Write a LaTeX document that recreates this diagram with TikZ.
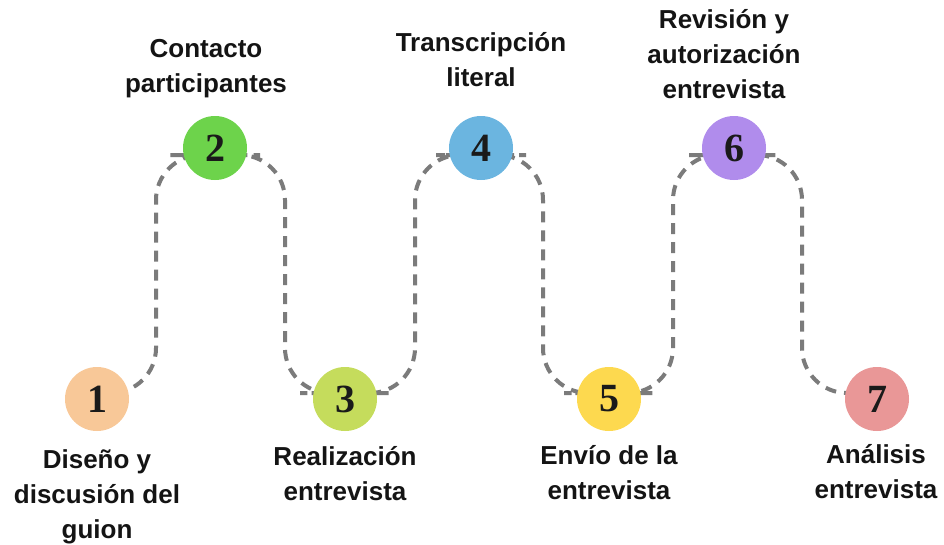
\documentclass[tikz,border=0pt]{standalone}
\usepackage{fontspec}
\setmainfont{Liberation Sans}
\newfontfamily\numfont{Liberation Serif}
\usetikzlibrary{calc,backgrounds}
\definecolor{cA}{HTML}{F8C898}
\definecolor{cB}{HTML}{6DD34B}
\definecolor{cC}{HTML}{C5DC5C}
\definecolor{cD}{HTML}{6BB5E0}
\definecolor{cE}{HTML}{FDD94F}
\definecolor{cF}{HTML}{B08CEC}
\definecolor{cG}{HTML}{E99797}
\definecolor{txtcol}{HTML}{141414}
\definecolor{numcol}{HTML}{1A1A1A}
\definecolor{trailcol}{HTML}{7B7B7B}
\begin{document}
\begin{tikzpicture}[x=1pt,y=-1pt,
  stepcircle/.style={circle, minimum size=64pt, inner sep=0pt,
    font=\numfont\fontsize{40}{40}\selectfont\bfseries, text=numcol},
  lbl/.style={align=center, font=\fontsize{26}{35}\selectfont\bfseries,
    text=txtcol, inner sep=0pt, anchor=base},
  trail/.style={draw=trailcol, line width=4pt, dash pattern=on 11pt off 8pt,
    rounded corners=45pt}
]
\useasboundingbox (0,0) rectangle (944,544);
\node[stepcircle, fill=cA] (n1) at (97,399) {1};
\node[stepcircle, fill=cB] (n2) at (215,148) {2};
\node[stepcircle, fill=cC] (n3) at (345,399) {3};
\node[stepcircle, fill=cD] (n4) at (481,148) {4};
\node[stepcircle, fill=cE] (n5) at (609,399) {5};
\node[stepcircle, fill=cF] (n6) at (734,148) {6};
\node[stepcircle, fill=cG] (n7) at (877,399) {7};

\begin{pgfonlayer}{background}
\draw[trail] ($(n1.center)+(0,-6)$) -- (156,393) -- (156,155) -- ($(n2.center)+(0,7)$)
  -- (285,155) -- (285,393) -- ($(n3.center)+(0,-6)$)
  -- (415,393) -- (415,155) -- ($(n4.center)+(0,7)$)
  -- (543,155) -- (543,393) -- ($(n5.center)+(0,-6)$)
  -- (673,393) -- (673,155) -- ($(n6.center)+(0,7)$)
  -- (802,155) -- (802,393) -- ($(n7.center)+(0,-6)$);
\end{pgfonlayer}

\node[lbl] (l1) at (97,538) {Diseño y\\discusión del\\guion};
\node[lbl] (l2) at (206,92) {Contacto\\participantes};
\node[lbl] (l3) at (345,500) {Realización\\entrevista};
\node[lbl] (l4) at (481,86) {Transcripción\\literal};
\node[lbl] (l5) at (609,499) {Envío de la\\entrevista};
\node[lbl] (l6) at (724,98) {Revisión y\\autorización\\entrevista};
\node[lbl] (l7) at (876,498) {Análisis\\entrevista};
\end{tikzpicture}
\end{document}
